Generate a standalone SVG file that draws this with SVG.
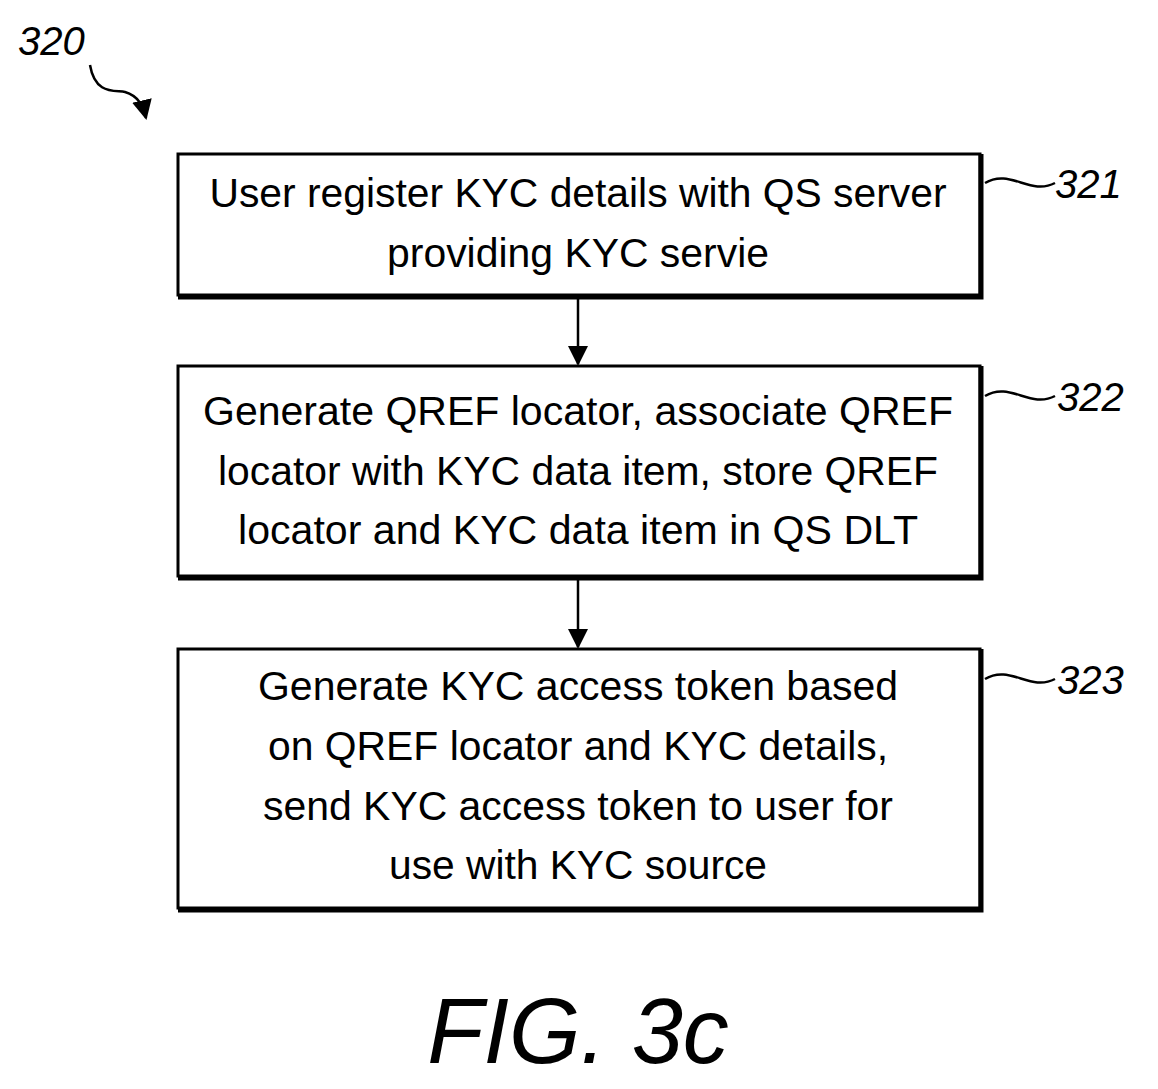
<svg xmlns="http://www.w3.org/2000/svg" width="1158" height="1089" viewBox="0 0 1158 1089">
<style>
.t{font-family:"Liberation Sans",Arial,sans-serif;font-size:40px;fill:#000;text-anchor:middle}
.r{font-family:"Liberation Sans",Arial,sans-serif;font-size:40px;font-style:italic;fill:#000}
.b{fill:#fff;stroke:#000;stroke-width:3}
.s{fill:none;stroke:#000;stroke-width:5}
.c{fill:none;stroke:#000;stroke-width:2.5}
</style>
<defs><marker id="a" markerWidth="10" markerHeight="10" refX="9" refY="5" orient="auto" markerUnits="userSpaceOnUse"><path d="M0,0 L10,5 L0,10 Z" fill="#000"/></marker>
<marker id="h" markerWidth="20" markerHeight="20" refX="18" refY="10" orient="auto" markerUnits="userSpaceOnUse"><path d="M0,0 L20,10 L0,20 Z" fill="#000"/></marker></defs>
<text class="r" x="18" y="55">320</text>
<path class="c" d="M90,65 C95,95 115,90 125,92 C138,96 143,105 146,118" marker-end="url(#h)" stroke-width="3.5" style="fill:none;stroke:#000"/>
<g id="n321"><rect class="b" x="178" y="154" width="802" height="141"/><path class="s" d="M981,154 V297 H178"/>
<text class="t" x="578" y="207" textLength="737" lengthAdjust="spacingAndGlyphs">User register KYC details with QS server</text>
<text class="t" x="578" y="267" textLength="382" lengthAdjust="spacingAndGlyphs">providing KYC servie</text>
<path class="c" d="M985,183 C1010,168 1030,196 1055,183"/><text class="r" x="1055" y="198">321</text></g>
<g id="n322"><rect class="b" x="178" y="366" width="802" height="210"/><path class="s" d="M981,366 V578 H178"/>
<text class="t" x="578" y="425" textLength="750" lengthAdjust="spacingAndGlyphs">Generate QREF locator, associate QREF</text>
<text class="t" x="578" y="485" textLength="720" lengthAdjust="spacingAndGlyphs">locator with KYC data item, store QREF</text>
<text class="t" x="578" y="544" textLength="680" lengthAdjust="spacingAndGlyphs">locator and KYC data item in QS DLT</text>
<path class="c" d="M985,396 C1010,381 1030,409 1055,396"/><text class="r" x="1057" y="411">322</text></g>
<g id="n323"><rect class="b" x="178" y="649" width="802" height="259"/><path class="s" d="M981,649 V910 H178"/>
<text class="t" x="578" y="700" textLength="640" lengthAdjust="spacingAndGlyphs">Generate KYC access token based</text>
<text class="t" x="578" y="760" textLength="620" lengthAdjust="spacingAndGlyphs">on QREF locator and KYC details,</text>
<text class="t" x="578" y="820" textLength="630" lengthAdjust="spacingAndGlyphs">send KYC access token to user for</text>
<text class="t" x="578" y="879" textLength="378" lengthAdjust="spacingAndGlyphs">use with KYC source</text>
<path class="c" d="M985,679 C1010,664 1030,692 1055,679"/><text class="r" x="1057" y="694">323</text></g>
<g id="connectors" stroke="#000" stroke-width="2.5">
<line x1="578" y1="298" x2="578" y2="364" marker-end="url(#h)"/>
<line x1="578" y1="580" x2="578" y2="647" marker-end="url(#h)"/>
</g>
<text class="r" x="578" y="1063" style="font-size:92px;text-anchor:middle">FIG. 3c</text>
</svg>
